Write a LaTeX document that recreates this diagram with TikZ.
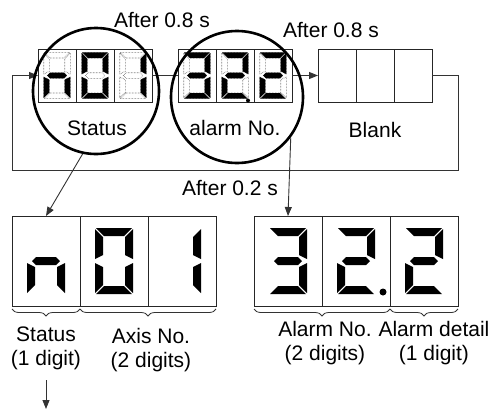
\documentclass[tikz,border=0pt]{standalone}
\usepackage{fontspec}
\setmainfont{Liberation Sans}
\usetikzlibrary{positioning, calc, arrows.meta, decorations.pathreplacing}

% small display digit: dotted frame of all segments, lit ones filled
\newcommand{\smalldigit}[2]{%
	\begin{scope}[shift={(#1.center)}]
		\foreach \s in {a,...,g} {\pic[seg off, scale=0.7] {seg \s};}
		\foreach \s in {#2} {\pic[seg on, scale=0.7] {seg \s};}
	\end{scope}}
% large display digit: lit segments only
\newcommand{\bigdigit}[2]{%
	\begin{scope}[shift={(#1.center)}]
		\foreach \s in {#2} {\pic[seg on] {seg \s};}
	\end{scope}}

\begin{document}
\begin{tikzpicture}[
		x=1pt, y=-1pt,
		font=\fontsize{21}{24}\selectfont,
		% Style for the display cells
		cell/.style={draw=black!85, line width=0.9pt, outer sep=0pt, inner sep=0pt},
		small cell/.style={cell, minimum width=38pt, minimum height=53pt},
		big cell/.style={cell, minimum width=68pt, minimum height=90pt},
		% Magnifier circles
		lens/.style={draw, circle, line width=2.6pt, inner sep=0pt},
		% Segments
		seg on/.style={fill=black},
		seg off/.style={draw=black!75, line width=0.6pt, dash pattern=on 0.5pt off 1pt},
		% Lines & Text
		link/.style={draw=black!80, line width=0.9pt},
		tip/.style={-{Triangle[length=9pt, width=7pt]}},
		brace/.style={draw=black!80, line width=0.8pt, decorate,
			decoration={brace, mirror, amplitude=7pt, raise=3pt}},
		caption/.style={inner sep=0pt, align=center},
		% The seven segments of one digit
		seg a/.pic={\path[pic actions] (-18,-33) -- (18,-33) -- (10,-25) -- (-10,-25) -- cycle;},
		seg b/.pic={\path[pic actions] (19,-32) -- (19,-2) -- (11,-6) -- (11,-24) -- cycle;},
		seg c/.pic={\path[pic actions] (19,2) -- (19,32) -- (11,24) -- (11,6) -- cycle;},
		seg d/.pic={\path[pic actions] (-18,33) -- (18,33) -- (10,25) -- (-10,25) -- cycle;},
		seg e/.pic={\path[pic actions] (-19,2) -- (-19,32) -- (-11,24) -- (-11,6) -- cycle;},
		seg f/.pic={\path[pic actions] (-19,-32) -- (-19,-2) -- (-11,-6) -- (-11,-24) -- cycle;},
		seg g/.pic={\path[pic actions] (-14,0) -- (-10,-4) -- (10,-4) -- (14,0) -- (10,4) -- (-10,4) -- cycle;}
		]
		\useasboundingbox (0,0) rectangle (496,410);
		
		% ==============================================================================
		% ROW 1: THE CYCLING DISPLAY
		% ==============================================================================
		\node[small cell] (smallS1) at (57,75.5) {};
		\node[small cell, right=0pt of smallS1] (smallS2) {};
		\node[small cell, right=0pt of smallS2] (smallS3) {};
		
		\node[small cell] (smallA1) at (197,75.5) {};
		\node[small cell, right=0pt of smallA1] (smallA2) {};
		\node[small cell, right=0pt of smallA2] (smallA3) {};
		
		\node[small cell] (blank1) at (337,75.5) {};
		\node[small cell, right=0pt of blank1] (blank2) {};
		\node[small cell, right=0pt of blank2] (blank3) {};
		
		\smalldigit{smallS1}{c,e,g}
		\smalldigit{smallS2}{a,b,c,d,e,f}
		\smalldigit{smallS3}{b,c}
		\smalldigit{smallA1}{a,b,c,d,g}
		\smalldigit{smallA2}{a,b,d,e,g}
		\smalldigit{smallA3}{a,b,d,e,g}
		\fill (smallA2.center) ++(13,25) circle (2);
		
		\node (wait1) at (162,20) {After 0.8 s};
		\node (wait2) at (331,30) {After 0.8 s};
		\node (wait3) at (230,188) {After 0.2 s};
		
		\node (lblS) at (97,128) {Status};
		\node (lblA) at (235,128) {alarm No.};
		\node (lblB) at (375,130) {Blank};
		
		% --- loop back to the start ---
		\coordinate (loopR) at (458,170);
		\coordinate (loopL) at (12,170);
		\draw[link] (smallS3.east) -- (smallA1.west);
		\draw[link, tip] (smallA3.east) -- (blank1.west);
		\draw[link, tip] (blank3.east) -| (loopR) -- (loopL) |- (smallS1.west);
		
		\node[lens, minimum size=126pt] (lensS) at (96,91) {};
		\node[lens, minimum size=132pt] (lensA) at (237,97) {};
		
		% ==============================================================================
		% ROW 2: THE ENLARGED DISPLAYS
		% ==============================================================================
		\node[big cell] (bigS1) at (46,261) {};
		\node[big cell, right=0pt of bigS1] (bigS2) {};
		\node[big cell, right=0pt of bigS2] (bigS3) {};
		
		\node[big cell] (bigA1) at (288,261) {};
		\node[big cell, right=0pt of bigA1] (bigA2) {};
		\node[big cell, right=0pt of bigA2] (bigA3) {};
		
		\bigdigit{bigS1}{c,e,g}
		\bigdigit{bigS2}{a,b,c,d,e,f}
		\bigdigit{bigS3}{b,c}
		\bigdigit{bigA1}{a,b,c,d,g}
		\bigdigit{bigA2}{a,b,d,e,g}
		\bigdigit{bigA3}{a,b,d,e,g}
		\fill (bigA2.center) ++(27,31) circle (3.5);
		
		\draw[link, tip] (lensS.-102) -- (bigS1.north);
		\draw[link, tip] (lensA.-37) -- (bigA1.north);
		
		% --- braces and captions ---
		\draw[brace] (bigS1.south west) -- (bigS1.south east);
		\draw[brace] (bigS2.south west) -- (bigS3.south east);
		\draw[brace] (bigA1.south west) -- (bigA2.south east);
		\draw[brace] (bigA3.south west) -- (bigA3.south east);
		
		\node[caption, below=21pt of bigS1] (capS) {Status\\(1 digit)};
		\node[caption, below=22pt of bigS2.south east, xshift=3pt] (capAxis) {Axis No.\\(2 digits)};
		\node[caption, below=15pt of bigA1.south east, xshift=3pt] (capAlarm) {Alarm No.\\(2 digits)};
		\node[caption, below=15pt of bigA3, xshift=10pt] (capDetail) {Alarm detail\\(1 digit)};
		
		\coordinate (out) at (46,409);
		\draw[link, tip, shorten <=10pt] (capS) -- (out);
		
	\end{tikzpicture}
\end{document}
